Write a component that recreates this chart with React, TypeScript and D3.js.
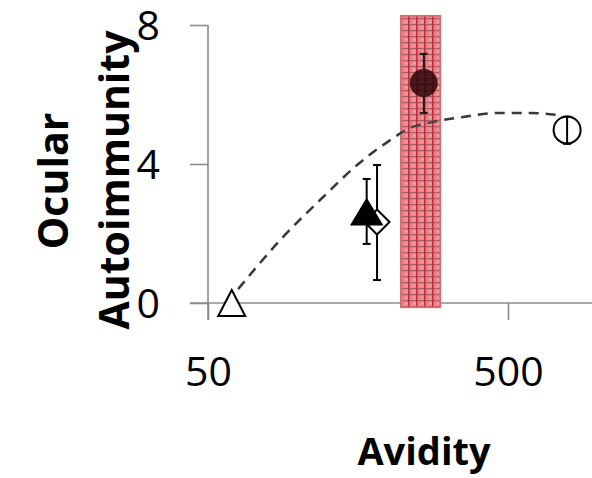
import * as d3 from 'd3';
import * as React from 'react';

// measured points (avidity on log axis, ocular autoimmunity score)
const avidity = [60, 169, 183, 262, 787];
const score = [0, 2.62, 2.33, 6.33, 4.98];
const errLow = [0, 1.7, 0.66, 5.47, 4.58];
const errHigh = [0, 3.57, 3.97, 7.17, 5.36];
const markers = ['triangle-open', 'triangle', 'diamond-open', 'circle', 'circle-open'];
const drawOrder = [0, 2, 1, 3, 4];

// dashed trend line
const trendX = [63, 87, 121, 157, 198, 236, 281, 354, 459, 592, 728];
const trendY = [0.4, 1.81, 3.05, 3.97, 4.63, 5.04, 5.21, 5.35, 5.47, 5.47, 5.41];

// shaded window
const bandX = [220, 297];
const bandY = [-0.12, 8.26];

const xTicks = [50, 500];
const yTicks = [0, 4, 8];

const W = 592;
const H = 478;

const Chart = () => {
  const ref = React.useRef<SVGSVGElement | null>(null);

  React.useEffect(() => {
    if (!ref.current) return;
    const svg = d3.select(ref.current);
    svg.selectAll('*').remove();

    const x = d3.scaleLog().domain([50, 1000]).range([208, 208 + 300 * Math.log10(20)]);
    const y = d3.scaleLinear().domain([0, 8]).range([303, 25]);
    const axisColor = '#8c8c8c';

    const defs = svg.append('defs');
    const pat = defs
      .append('pattern')
      .attr('id', 'band-pat')
      .attr('patternUnits', 'userSpaceOnUse')
      .attr('width', 8)
      .attr('height', 6);
    pat.append('rect').attr('width', 8).attr('height', 6).attr('fill', '#ea8a8e');
    pat.append('rect').attr('y', 0).attr('width', 8).attr('height', 1.2).attr('fill', '#a4606a');
    pat.append('rect').attr('x', 0).attr('width', 1.6).attr('height', 6).attr('fill', '#c82838');
    pat.append('rect').attr('x', 3).attr('y', 3).attr('width', 1.2).attr('height', 1.2).attr('fill', '#8c8c8c');
    pat.append('rect').attr('x', 5.5).attr('y', 3).attr('width', 1.2).attr('height', 1.2).attr('fill', '#f8d8d8');

    // y axis
    const yAxis = svg.append('g').attr('transform', 'translate(208,0)');
    yAxis
      .call(d3.axisLeft(y).tickValues(yTicks).tickSize(18).tickSizeOuter(0))
      .select('.domain')
      .attr('d', `M0,${y(8)}V320`);
    // x axis
    const xAxis = svg.append('g').attr('transform', `translate(0,${y(0)})`);
    xAxis
      .call(d3.axisBottom(x).tickValues(xTicks).tickFormat(d3.format('d')).tickSize(17).tickSizeOuter(0))
      .select('.domain')
      .attr('d', `M190,0H${W}`);

    svg.selectAll('.domain, .tick line').attr('stroke', axisColor).attr('stroke-width', 1.6);
    svg
      .selectAll('.tick text')
      .attr('fill', '#000')
      .style('font-family', '"Open Sans", sans-serif')
      .style('font-size', '41px');
    yAxis.selectAll('.tick text').attr('x', -48).attr('dy', '0.36em');
    xAxis.selectAll('.tick text').attr('dy', '0').attr('y', 83);

    // band underneath
    svg
      .append('rect')
      .attr('x', x(bandX[0]))
      .attr('y', y(bandY[1]))
      .attr('width', x(bandX[1]) - x(bandX[0]))
      .attr('height', y(bandY[0]) - y(bandY[1]))
      .attr('fill', 'url(#band-pat)')
      .attr('stroke', '#dc6a70')
      .attr('stroke-width', 2);

    // trend
    const line = d3
      .line<number>()
      .x((d, i) => x(trendX[i]))
      .y((d) => y(d))
      .curve(d3.curveMonotoneX);
    svg
      .append('path')
      .datum(trendY)
      .attr('d', line)
      .attr('fill', 'none')
      .attr('stroke', '#383838')
      .attr('stroke-width', 2.5)
      .attr('stroke-dasharray', '10,7');

    // points
    const pts = svg.append('g');
    drawOrder.forEach((i) => {
      const cx = x(avidity[i]);
      const cy = y(score[i]);
      const m = markers[i];
      if (errHigh[i] > errLow[i]) {
        const eb = pts.append('g').attr('stroke', '#000').attr('stroke-width', 2);
        eb.append('line').attr('x1', cx).attr('x2', cx).attr('y1', y(errLow[i])).attr('y2', y(errHigh[i]));
        eb.append('line').attr('x1', cx - 4).attr('x2', cx + 4).attr('y1', y(errLow[i])).attr('y2', y(errLow[i]));
        eb.append('line').attr('x1', cx - 4).attr('x2', cx + 4).attr('y1', y(errHigh[i])).attr('y2', y(errHigh[i]));
      }
      if (m.startsWith('triangle')) {
        const w = m === 'triangle' ? 30 : 27;
        const h = m === 'triangle' ? 25 : 26;
        pts
          .append('path')
          .attr('d', `M${cx},${cy - h / 2}L${cx + w / 2},${cy + h / 2}L${cx - w / 2},${cy + h / 2}Z`)
          .attr('fill', m === 'triangle' ? '#000' : '#fff')
          .attr('stroke', '#000')
          .attr('stroke-width', 2);
      } else if (m === 'diamond-open') {
        const r = 12.5;
        pts
          .append('path')
          .attr('d', `M${cx},${cy - r}L${cx + r},${cy}L${cx},${cy + r}L${cx - r},${cy}Z`)
          .attr('fill', '#fff')
          .attr('stroke', '#000')
          .attr('stroke-width', 2);
      } else if (m === 'circle') {
        pts.append('circle').attr('cx', cx).attr('cy', cy).attr('r', 14).attr('fill', '#240002');
      } else {
        pts
          .append('circle')
          .attr('cx', cx)
          .attr('cy', cy)
          .attr('r', 13.5)
          .attr('fill', 'none')
          .attr('stroke', '#000')
          .attr('stroke-width', 2);
      }
    });

    // band texture over everything inside it
    svg
      .append('rect')
      .attr('x', x(bandX[0]))
      .attr('y', y(bandY[1]))
      .attr('width', x(bandX[1]) - x(bandX[0]))
      .attr('height', y(bandY[0]) - y(bandY[1]))
      .attr('fill', 'url(#band-pat)')
      .attr('opacity', 0.18);

    // titles
    const title = svg
      .append('g')
      .style('font-family', '"Open Sans", sans-serif')
      .style('font-weight', 'bold')
      .attr('fill', '#000');
    title.append('text').attr('x', 424).attr('y', 465).attr('text-anchor', 'middle').style('font-size', '38px').text('Avidity');
    title
      .append('text')
      .attr('transform', 'translate(68,181) rotate(-90)')
      .attr('text-anchor', 'middle')
      .style('font-size', '41px')
      .text('Ocular');
    title
      .append('text')
      .attr('transform', 'translate(129,180) rotate(-90)')
      .attr('text-anchor', 'middle')
      .style('font-size', '41px')
      .text('Autoimmunity');
  }, []);

  return <svg ref={ref} width={W} height={H} style={{ position: 'absolute', left: 0, top: 0, background: '#fff' }} />;
};

export default function App() {
  return <Chart />;
}
